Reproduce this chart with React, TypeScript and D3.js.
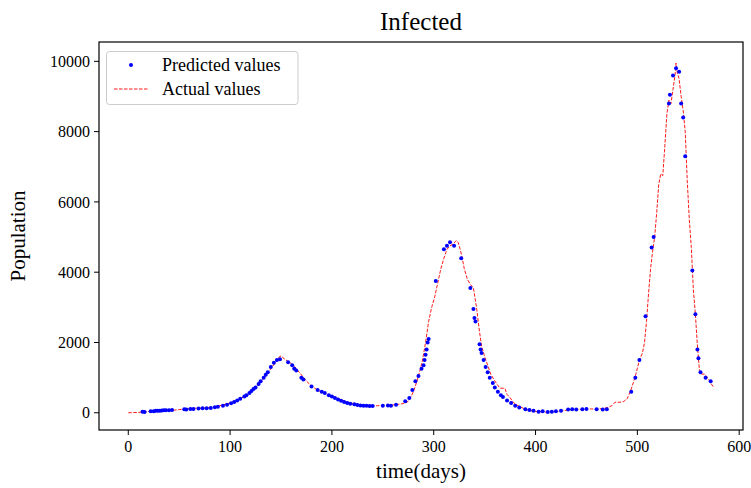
import React from 'react';
import * as d3 from 'd3';

// actual values (red dashed line)
const actualDays = [0, 5, 10, 15, 20, 25, 30, 35, 40, 45, 50, 55, 60, 65, 70, 75, 80, 85, 90, 95, 100, 105, 110, 115, 120, 125, 130, 135, 140, 145, 148, 150, 153, 156, 160, 163, 166, 170, 175, 180, 185, 190, 195, 200, 205, 210, 215, 220, 225, 230, 235, 240, 245, 250, 255, 260, 265, 270, 274, 277, 280, 283, 286, 289, 292, 295, 298, 301, 304, 307, 310, 313, 316, 319, 322, 324, 326, 328, 330, 333, 336, 339, 342, 345, 347, 350, 353, 356, 359, 362, 365, 368, 370, 372, 375, 378, 381, 385, 390, 395, 400, 405, 410, 415, 420, 425, 430, 435, 440, 445, 450, 455, 460, 465, 470, 475, 478, 482, 486, 490, 493, 496, 499, 502, 505, 507, 509, 511, 513, 515, 517, 519, 521, 523, 525, 527, 529, 531, 533, 535, 537, 538, 539, 541, 543, 545, 547, 549, 551, 553, 555, 557, 559, 561, 563, 566, 569, 572, 575];
const actualValues = [0, 5, 10, 20, 35, 45, 55, 65, 70, 75, 90, 110, 120, 130, 130, 140, 150, 170, 200, 240, 280, 330, 400, 480, 580, 720, 880, 1050, 1250, 1450, 1580, 1620, 1540, 1480, 1400, 1320, 1220, 1080, 900, 760, 660, 590, 530, 480, 420, 360, 310, 270, 240, 215, 200, 195, 200, 210, 215, 220, 240, 260, 300, 420, 600, 850, 1150, 1500, 2000, 2600, 3000, 3300, 3700, 4100, 4400, 4650, 4750, 4800, 4900, 4850, 4650, 4400, 4100, 3800, 3650, 3550, 3000, 2300, 1900, 1600, 1350, 1100, 950, 820, 700, 700, 690, 520, 430, 300, 230, 170, 100, 60, 40, 30, 20, 20, 30, 50, 70, 90, 100, 100, 100, 110, 100, 120, 140, 200, 300, 300, 310, 400, 600, 850, 1150, 1500, 1700, 2000, 2600, 3400, 4100, 4600, 5000, 5700, 6500, 6800, 6750, 7600, 8500, 8900, 8800, 9200, 9600, 9950, 9700, 9500, 9000, 8600, 8000, 6600, 5500, 4700, 3500, 2800, 1900, 1200, 1100, 1100, 1000, 850, 720];

// predicted values (blue dots)
const predictedDays = [14, 16, 22, 25, 27, 29, 31, 33, 35, 37, 40, 43, 55, 57, 61, 64, 69, 73, 77, 81, 85, 88, 93, 97, 101, 104, 107, 110, 114, 116, 119, 121, 123, 125, 128, 130, 133, 135, 137, 140, 143, 146, 149, 157, 161, 163, 165, 170, 172, 180, 186, 190, 193, 197, 200, 203, 206, 209, 212, 215, 218, 222, 225, 228, 231, 234, 237, 240, 250, 255, 258, 263, 272, 276, 279, 282, 285, 288, 290, 291, 292, 293, 294, 295, 302, 310, 313, 316, 320, 327, 336, 339, 340, 341, 345, 346, 347, 349, 351, 353, 355, 358, 360, 363, 366, 368, 372, 376, 380, 384, 390, 394, 398, 403, 407, 412, 416, 420, 425, 432, 436, 440, 446, 450, 460, 466, 470, 494, 498, 502, 508, 514, 516, 531, 532, 535, 538, 541, 543, 545, 547, 554, 557, 559, 560, 562, 567, 572];
const predictedValues = [30, 25, 45, 40, 55, 60, 60, 65, 70, 70, 75, 80, 100, 95, 110, 110, 120, 130, 130, 135, 160, 170, 200, 230, 270, 310, 350, 400, 460, 500, 560, 620, 680, 720, 820, 900, 1000, 1080, 1150, 1300, 1420, 1500, 1520, 1440, 1350, 1250, 1200, 1000, 950, 750, 650, 600, 560, 500, 460, 420, 380, 340, 310, 280, 260, 240, 220, 210, 200, 200, 195, 190, 200, 210, 200, 230, 330, 420, 650, 900, 1050, 1250, 1350, 1500, 1650, 1800, 2000, 2100, 3750, 4650, 4750, 4850, 4750, 4400, 3550, 2950, 2700, 2600, 1950, 1800, 1700, 1500, 1300, 1150, 1000, 850, 720, 600, 500, 450, 350, 280, 200, 150, 100, 80, 60, 30, 40, 20, 30, 40, 60, 90, 100, 90, 100, 110, 100, 90, 100, 600, 1000, 1500, 2750, 4700, 5000, 8800, 9050, 9600, 9800, 9700, 8800, 8400, 7300, 4050, 2800, 1800, 1550, 1150, 1000, 900];

const xTicks = [0, 100, 200, 300, 400, 500, 600];
const yTicks = [0, 2000, 4000, 6000, 8000, 10000];

const W = 751;
const H = 488;
const m = { left: 99, right: 743, top: 42, bottom: 430 };
const font = '"Liberation Serif", serif';

export default function App() {
  const x = d3.scaleLinear().domain([-28.75, 603.75]).range([m.left, m.right]);
  const y = d3.scaleLinear().domain([-490, 10550]).range([m.bottom, m.top]);

  const actual = actualDays.map((d, i) => [d, actualValues[i]] as [number, number]);
  const line = d3.line<[number, number]>().x(d => x(d[0])).y(d => y(d[1]));

  return (
    <svg width={W} height={H} style={{ position: 'absolute', left: 0, top: 0, background: '#fff' }} fontFamily={font}>
      <rect x={0} y={0} width={W} height={H} fill="#fff" />
      <text x={(m.left + m.right) / 2} y={30} textAnchor="middle" fontSize={25} fill="#000">Infected</text>

      <path d={line(actual) || ''} fill="none" stroke="#ff0000" strokeWidth={0.9} strokeDasharray="3.5,1.5" />
      {predictedDays.map((d, i) => (
        <circle key={i} cx={x(d)} cy={y(predictedValues[i])} r={2} fill="#0000ff" />
      ))}

      <rect x={m.left} y={m.top} width={m.right - m.left} height={m.bottom - m.top} fill="none" stroke="#000" strokeWidth={1.2} />

      {xTicks.map(t => (
        <g key={t} transform={`translate(${x(t)},${m.bottom})`}>
          <line y2={5} stroke="#000" strokeWidth={1} />
          <text y={22} textAnchor="middle" fontSize={16} fill="#000">{t}</text>
        </g>
      ))}
      {yTicks.map(t => (
        <g key={t} transform={`translate(${m.left},${y(t)})`}>
          <line x2={-5} stroke="#000" strokeWidth={1} />
          <text x={-9} dy="0.35em" textAnchor="end" fontSize={16} fill="#000">{t}</text>
        </g>
      ))}

      <text x={(m.left + m.right) / 2} y={478} textAnchor="middle" fontSize={21} fill="#000">time(days)</text>
      <text transform={`translate(25,${(m.top + m.bottom) / 2}) rotate(-90)`} textAnchor="middle" fontSize={21} fill="#000">Population</text>

      <g>
        <rect x={106.5} y={51.5} width={191.5} height={53} rx={3} fill="#fff" fillOpacity={0.8} stroke="#cccccc" strokeWidth={1} />
        <circle cx={131} cy={65} r={2} fill="#0000ff" />
        <text x={162} y={71} fontSize={18} fill="#000">Predicted values</text>
        <line x1={114} x2={148} y1={89} y2={89} stroke="#ff0000" strokeWidth={0.9} strokeDasharray="3.5,1.5" />
        <text x={162} y={95} fontSize={18} fill="#000">Actual values</text>
      </g>
    </svg>
  );
}
